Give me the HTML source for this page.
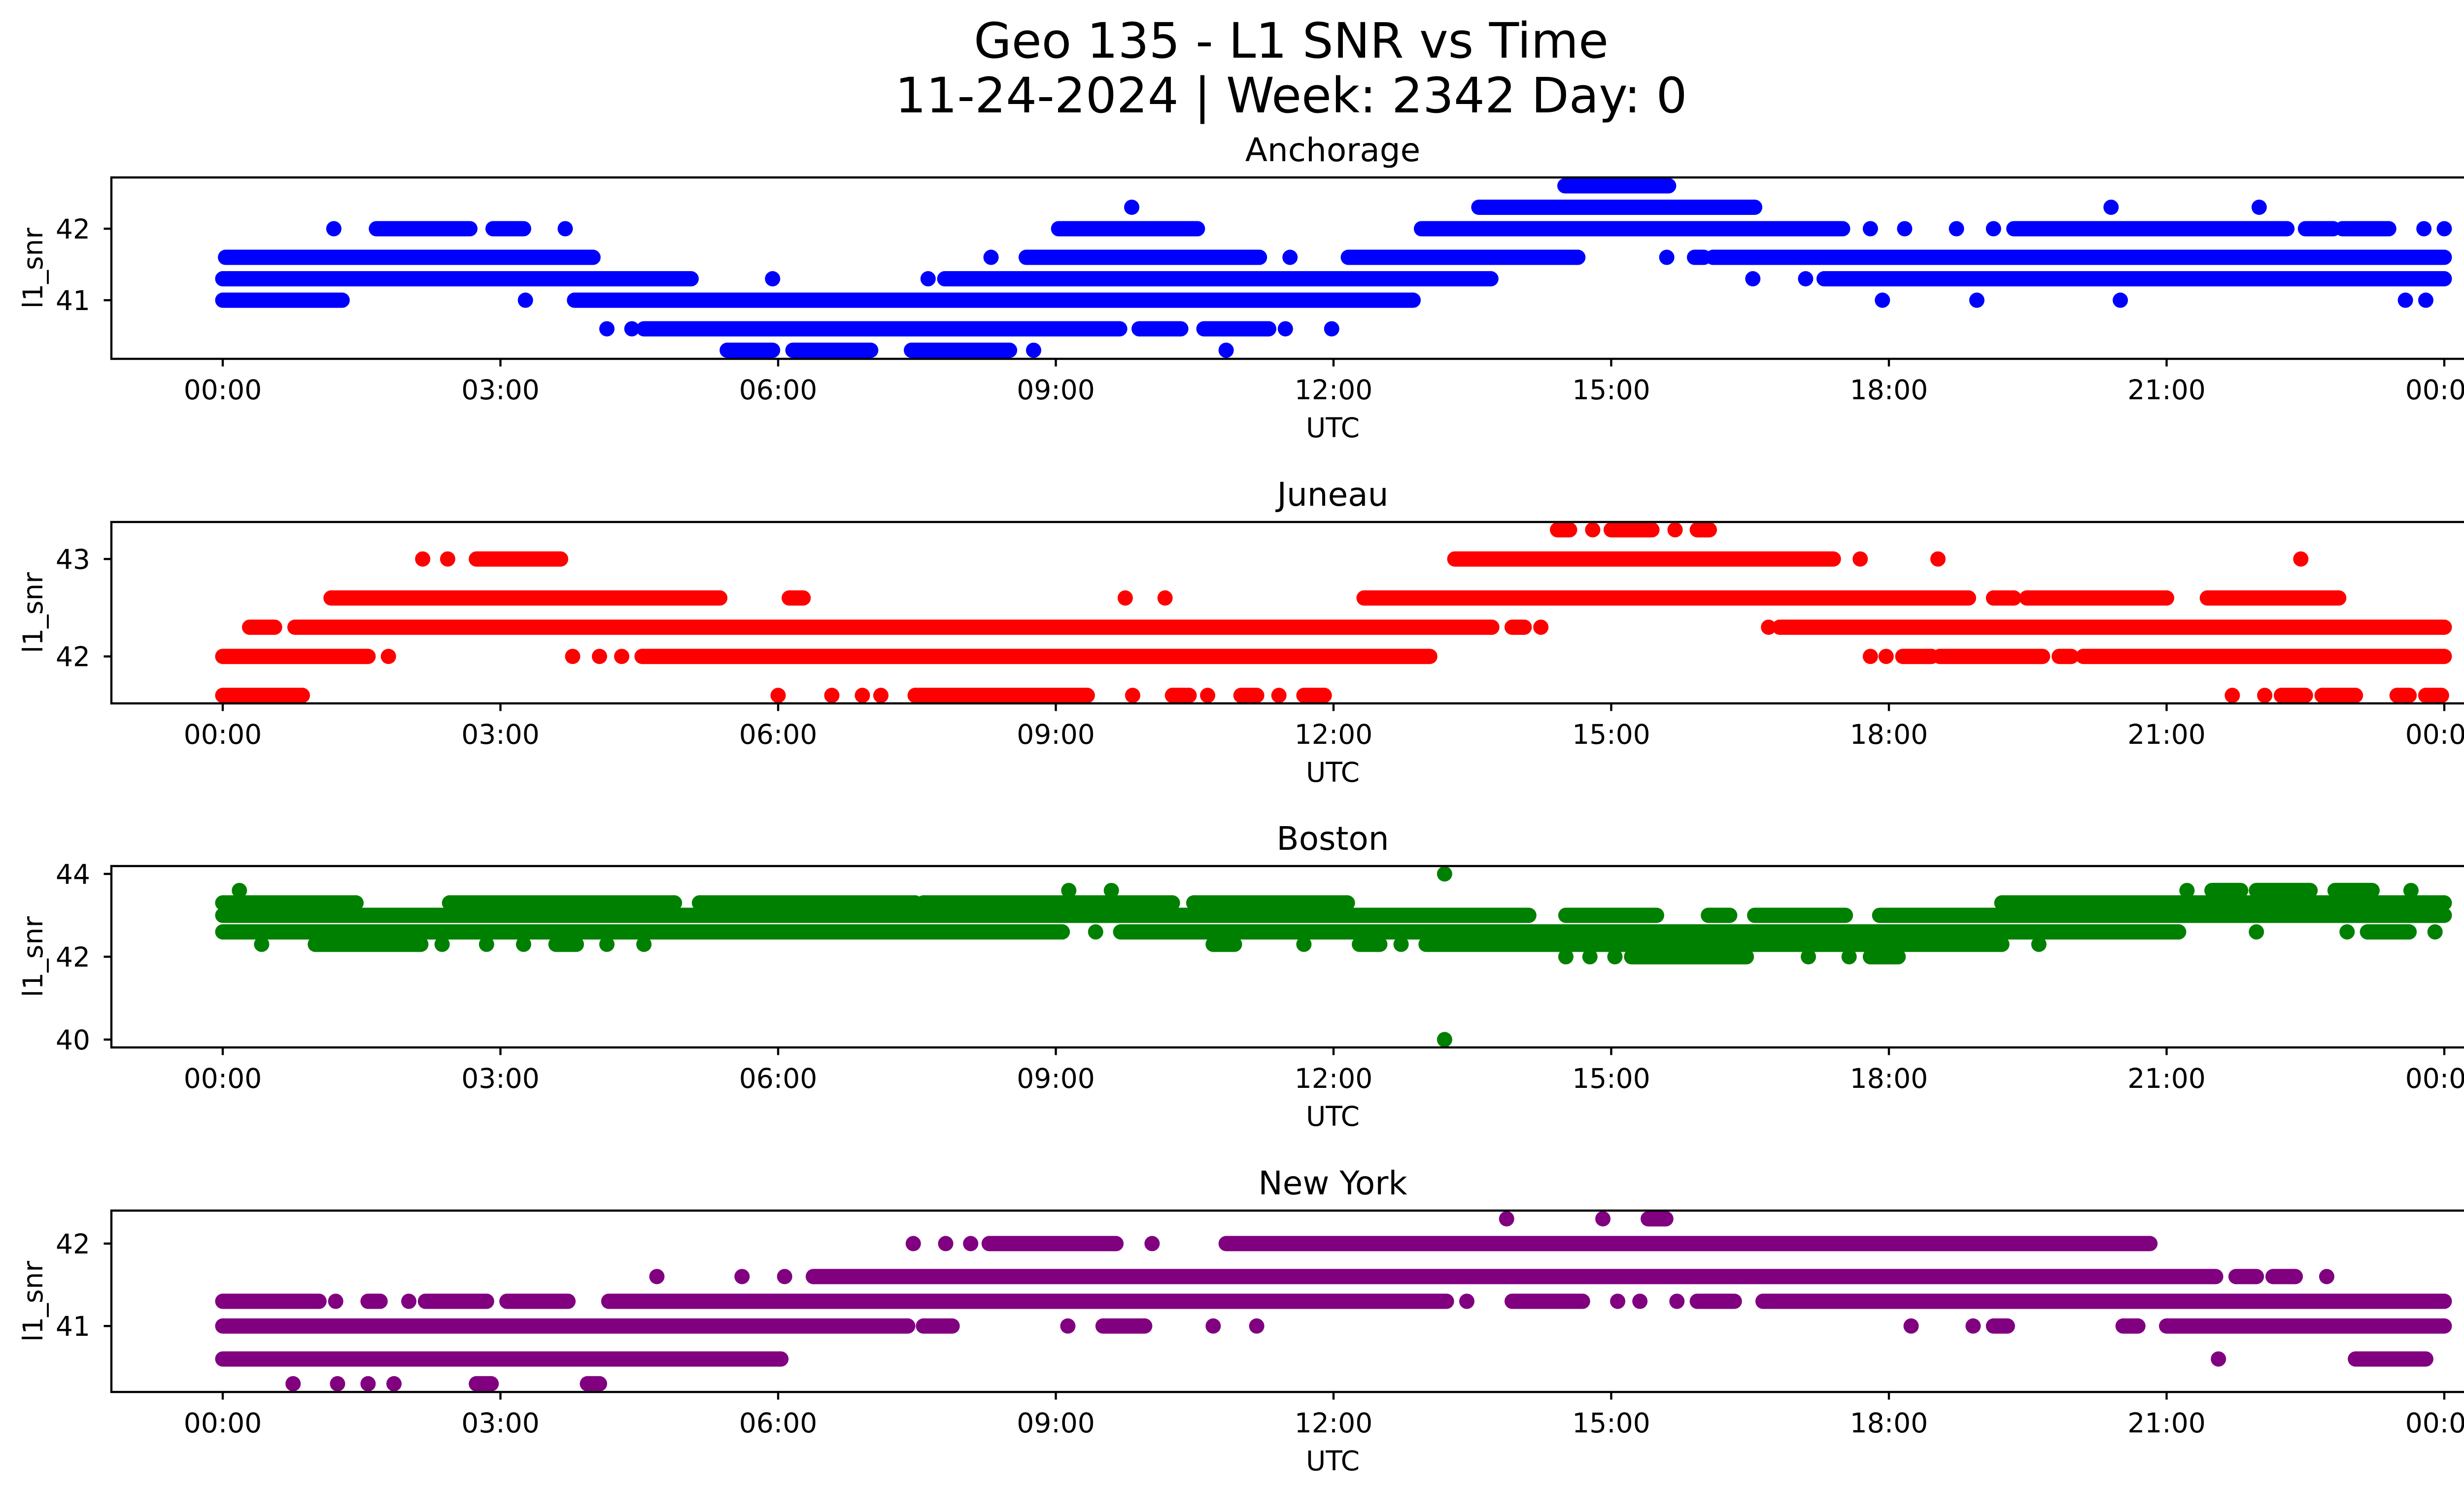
<!DOCTYPE html>
<html><head><meta charset="utf-8"><style>
html,body{margin:0;padding:0;background:#fff;}
svg{display:block;font-family:"DejaVu Sans","Liberation Sans",sans-serif;}
</style></head><body>
<svg id="fig" width="5226" height="3033" viewBox="0 0 5226 3033" xmlns="http://www.w3.org/2000/svg">
<rect width="5226" height="3033" fill="#fff"/>
<text x="2620" y="117" font-size="99" text-anchor="middle">Geo 135 - L1 SNR vs Time</text>
<text x="2620" y="228" font-size="99" text-anchor="middle">11-24-2024 | Week: 2342 Day: 0</text>
</svg>
<script>
// ---- data (hours UTC, SNR level): runs of consecutive samples [snr, startHour, endHour]
const xTickHours = [0,3,6,9,12,15,18,21,24];
const xTickLabels = ["00:00","03:00","06:00","09:00","12:00","15:00","18:00","21:00","00:00"];
const stationNames = ["Anchorage","Juneau","Boston","New York"];
const stationColors = ["#0000ff","#ff0000","#008000","#800080"];
const anchorageTicks = [41,42];
const juneauTicks = [42,43];
const bostonTicks = [40,42,44];
const newYorkTicks = [41,42];
const anchorageRange = [40.18,42.717];
const juneauRange = [41.518,43.38];
const bostonRange = [39.81,44.19];
const newYorkRange = [40.2,42.4];
const anchorageRuns = [
[42.6,14.5,15.62],
[42.3,9.82,9.82],[42.3,13.57,16.55],[42.3,20.4,20.4],[42.3,22.0,22.0],
[42.0,1.2,1.2],[42.0,1.66,2.67],[42.0,2.92,3.25],[42.0,3.7,3.7],[42.0,9.03,10.53],[42.0,12.95,17.5],[42.0,17.8,17.8],[42.0,18.17,18.17],[42.0,18.73,18.73],[42.0,19.13,19.13],[42.0,19.35,22.3],[42.0,22.5,22.8],[42.0,22.9,23.4],[42.0,23.78,23.78],[42.0,24,24],
[41.6,0.03,4.0],[41.6,8.3,8.3],[41.6,8.68,11.2],[41.6,11.53,11.53],[41.6,12.16,14.64],[41.6,15.6,15.6],[41.6,15.9,16.0],[41.6,16.1,24],
[41.3,0,5.06],[41.3,5.94,5.94],[41.3,7.62,7.62],[41.3,7.8,13.7],[41.3,16.53,16.53],[41.3,17.1,17.1],[41.3,17.3,24],
[41.0,0,1.29],[41.0,3.27,3.27],[41.0,3.8,12.86],[41.0,17.93,17.93],[41.0,18.95,18.95],[41.0,20.5,20.5],[41.0,23.58,23.58],[41.0,23.8,23.8],
[40.6,4.15,4.15],[40.6,4.42,4.42],[40.6,4.55,9.69],[40.6,9.9,10.35],[40.6,10.6,11.3],[40.6,11.48,11.48],[40.6,11.98,11.98],
[40.3,5.45,5.94],[40.3,6.16,7.0],[40.3,7.44,8.5],[40.3,8.76,8.76],[40.3,10.84,10.84]
];
const juneauRuns = [
[43.3,14.42,14.55],[43.3,14.8,14.8],[43.3,15.0,15.44],[43.3,15.69,15.69],[43.3,15.93,16.06],
[43.0,2.16,2.16],[43.0,2.43,2.43],[43.0,2.74,3.65],[43.0,13.31,17.4],[43.0,17.69,17.69],[43.0,18.53,18.53],[43.0,22.45,22.45],
[42.6,1.17,5.37],[42.6,6.12,6.27],[42.6,9.75,9.75],[42.6,10.18,10.18],[42.6,12.33,18.86],[42.6,19.13,19.35],[42.6,19.49,21.0],[42.6,21.44,22.86],
[42.3,0.29,0.56],[42.3,0.78,13.71],[42.3,13.93,14.06],[42.3,14.24,14.24],[42.3,16.7,16.7],[42.3,16.82,24],
[42.0,0,1.57],[42.0,1.79,1.79],[42.0,3.78,3.78],[42.0,4.07,4.07],[42.0,4.31,4.31],[42.0,4.53,13.04],[42.0,17.8,17.8],[42.0,17.97,17.97],[42.0,18.15,18.46],[42.0,18.55,19.66],[42.0,19.84,19.97],[42.0,20.1,24],
[41.6,0,0.86],[41.6,6.0,6.0],[41.6,6.58,6.58],[41.6,6.91,6.91],[41.6,7.11,7.11],[41.6,7.48,9.34],[41.6,9.83,9.83],[41.6,10.26,10.44],[41.6,10.64,10.64],[41.6,11.0,11.17],[41.6,11.41,11.41],[41.6,11.68,11.9],[41.6,21.71,21.71],[41.6,22.06,22.06],[41.6,22.24,22.5],[41.6,22.68,23.04],[41.6,23.49,23.62],[41.6,23.8,23.97]
];
const bostonRuns = [
[44.0,13.2,13.2],[40.0,13.2,13.2],
[43.6,0.18,0.18],[43.6,9.14,9.14],[43.6,9.6,9.6],[43.6,21.22,21.22],[43.6,21.49,21.8],[43.6,21.97,22.55],[43.6,22.82,23.22],[43.6,23.64,23.64],
[43.3,0,1.44],[43.3,2.45,4.88],[43.3,5.15,7.48],[43.3,7.57,10.26],[43.3,10.49,12.15],[43.3,19.22,24],
[43.0,0,14.11],[43.0,14.51,15.49],[43.0,16.05,16.28],[43.0,16.55,17.53],[43.0,17.9,24],
[42.6,0,9.07],[42.6,9.43,9.43],[42.6,9.7,21.13],[42.6,21.97,21.97],[42.6,22.95,22.95],[42.6,23.17,23.62],[42.6,23.9,23.9],
[42.3,0.42,0.42],[42.3,1.0,2.14],[42.3,2.37,2.37],[42.3,2.85,2.85],[42.3,3.25,3.25],[42.3,3.6,3.82],[42.3,4.15,4.15],[42.3,4.55,4.55],[42.3,10.7,10.93],[42.3,11.68,11.68],[42.3,12.28,12.5],[42.3,12.73,12.73],[42.3,13.0,19.22],[42.3,19.62,19.62],
[42.0,14.51,14.51],[42.0,14.77,14.77],[42.0,15.04,15.04],[42.0,15.22,16.46],[42.0,17.13,17.13],[42.0,17.57,17.57],[42.0,17.8,18.1]
];
const newYorkRuns = [
[42.3,13.87,13.87],[42.3,14.91,14.91],[42.3,15.4,15.59],
[42.0,7.46,7.46],[42.0,7.81,7.81],[42.0,8.08,8.08],[42.0,8.28,9.65],[42.0,10.04,10.04],[42.0,10.84,20.82],
[41.6,4.69,4.69],[41.6,5.61,5.61],[41.6,6.07,6.07],[41.6,6.38,21.53],[41.6,21.75,21.97],[41.6,22.15,22.39],[41.6,22.73,22.73],
[41.3,0,1.04],[41.3,1.22,1.22],[41.3,1.57,1.7],[41.3,2.01,2.01],[41.3,2.19,2.85],[41.3,3.07,3.73],[41.3,4.17,13.22],[41.3,13.44,13.44],[41.3,13.93,14.69],[41.3,15.07,15.07],[41.3,15.31,15.31],[41.3,15.71,15.71],[41.3,15.93,16.33],[41.3,16.64,24],
[41.0,0,7.4],[41.0,7.57,7.88],[41.0,9.13,9.13],[41.0,9.51,9.96],[41.0,10.7,10.7],[41.0,11.17,11.17],[41.0,18.24,18.24],[41.0,18.91,18.91],[41.0,19.13,19.28],[41.0,20.53,20.69],[41.0,21.0,24],
[40.6,0,6.03],[40.6,21.56,21.56],[40.6,23.04,23.8],
[40.3,0.76,0.76],[40.3,1.24,1.24],[40.3,1.57,1.57],[40.3,1.85,1.85],[40.3,2.74,2.9],[40.3,3.94,4.07]
];

// ---- layout
const NS = "http://www.w3.org/2000/svg";
const svg = document.getElementById("fig");
const AX_L = 226, AX_R = 5183, AX_H = 368;
const X0 = 452, X24 = 4960;
const panelTops = [360, 1059, 1757, 2456];
const R = 15.5;
function xScale(h){ return X0 + (X24 - X0) * h / 24; }
function mk(tag, attrs){ const e = document.createElementNS(NS, tag); for (const k in attrs) e.setAttribute(k, attrs[k]); return e; }

const allRuns = [anchorageRuns, juneauRuns, bostonRuns, newYorkRuns];
const allTicks = [anchorageTicks, juneauTicks, bostonTicks, newYorkTicks];
const allRanges = [anchorageRange, juneauRange, bostonRange, newYorkRange];

allRuns.forEach((runs, p) => {
  const top = panelTops[p], bot = top + AX_H;
  const [lo, hi] = allRanges[p];
  const yScale = v => bot - (v - lo) / (hi - lo) * AX_H;
  const slug = stationNames[p].toLowerCase().replace(/ /g, "-");
  const g = mk("g", {});
  
  
  svg.appendChild(g);

  const t = mk("text", {x: (AX_L + AX_R) / 2, y: top - 33, "font-size": 66, "text-anchor": "middle"});
  t.textContent = stationNames[p];
  
  
  g.appendChild(t);

  const clipId = "clip" + p;
  const cp = mk("clipPath", {id: clipId});
  cp.appendChild(mk("rect", {x: AX_L, y: top, width: AX_R - AX_L, height: AX_H}));
  g.appendChild(cp);
  const marks = mk("g", {fill: stationColors[p], "clip-path": "url(#" + clipId + ")"});
  
  
  g.appendChild(marks);
  runs.forEach(r => {
    const y = yScale(r[0]), x1 = xScale(r[1]), x2 = xScale(r[2]);
    const c1 = mk("circle", {cx: x1, cy: y, r: R});
    
    
    marks.appendChild(c1);
    if (x2 > x1) {
      const c2 = mk("circle", {cx: x2, cy: y, r: R});
      
      
      marks.appendChild(c2);
      const rc = mk("rect", {x: x1, y: y - R, width: x2 - x1, height: 2 * R});
      
      
      marks.appendChild(rc);
    }
  });

  const frame = mk("rect", {x: AX_L, y: top, width: AX_R - AX_L, height: AX_H, fill: "none", stroke: "#000", "stroke-width": 4.4});
  
  
  g.appendChild(frame);

  allTicks[p].forEach(v => {
    const y = yScale(v);
    const tk = mk("line", {x1: AX_L - 15.5, x2: AX_L, y1: y, y2: y, stroke: "#000", "stroke-width": 4.4});
    
    
    g.appendChild(tk);
    const lb = mk("text", {x: 183, y: y + 20, "font-size": 55, "text-anchor": "end"});
    lb.textContent = String(v);
    
    
    g.appendChild(lb);
  });

  xTickHours.forEach((h, i) => {
    const x = xScale(h);
    const tk = mk("line", {x1: x, x2: x, y1: bot, y2: bot + 15.5, stroke: "#000", "stroke-width": 4.4});
    
    
    g.appendChild(tk);
    const lb = mk("text", {x: x, y: bot + 82, "font-size": 55, "text-anchor": "middle"});
    lb.textContent = xTickLabels[i];
    
    
    g.appendChild(lb);
  });

  const xl = mk("text", {x: (AX_L + AX_R) / 2, y: bot + 159, "font-size": 55, "text-anchor": "middle"});
  xl.textContent = "UTC";
  
  
  g.appendChild(xl);

  const cy = (top + bot) / 2;
  const yl = mk("text", {x: 0, y: 0, "font-size": 55, "text-anchor": "middle", transform: "translate(86," + cy + ") rotate(-90)"});
  yl.textContent = "l1_snr";
  
  
  g.appendChild(yl);
});
</script>
</body></html>
